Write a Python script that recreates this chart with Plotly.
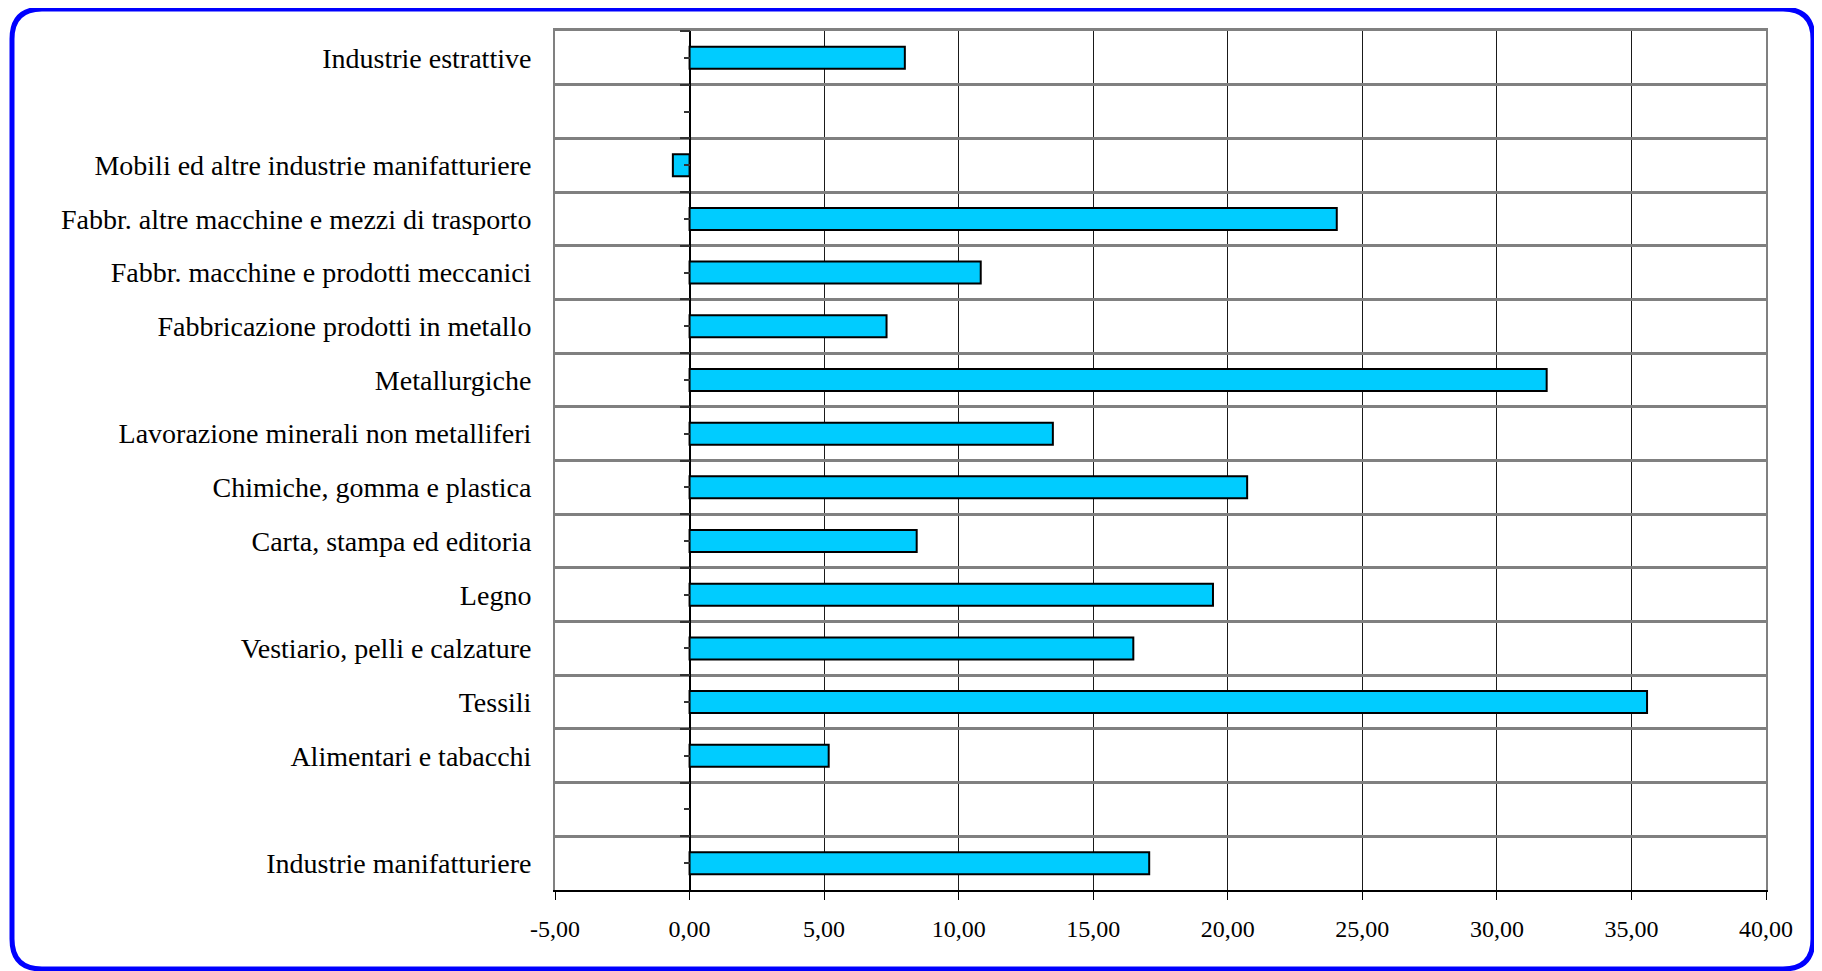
import plotly.graph_objects as go

categories = [
    "Industrie estrattive",
    " ",
    "Mobili ed altre industrie manifatturiere",
    "Fabbr. altre macchine e mezzi di trasporto",
    "Fabbr. macchine e prodotti meccanici",
    "Fabbricazione prodotti in metallo",
    "Metallurgiche",
    "Lavorazione minerali non metalliferi",
    "Chimiche, gomma e plastica",
    "Carta, stampa ed editoria",
    "Legno",
    "Vestiario, pelli e calzature",
    "Tessili",
    "Alimentari e tabacchi",
    "  ",
    "Industrie manifatturiere",
]
values = [8.0, None, -0.62, 24.05, 10.82, 7.32, 31.85, 13.50, 20.72, 8.44,
          19.45, 16.49, 35.58, 5.17, None, 17.08]
x_ticks = [-5, 0, 5, 10, 15, 20, 25, 30, 35, 40]
x_tick_labels = [f"{v:.2f}".replace(".", ",") for v in x_ticks]
x_range = [-5, 40]

# the page body adds an 8px offset, so the figure is laid out 8px up/left
OFF = 8
W, H = 1822 - OFF, 971 - OFF
L, R, T, B = 555 - OFF, 1766 - OFF, 31 - OFF, 890 - OFF

fig = go.Figure()
fig.add_trace(go.Bar(
    y=categories, x=values, orientation="h", width=0.41,
    marker=dict(color="#00CCFF", line=dict(color="#000000", width=2)),
    hoverinfo="x+y", showlegend=False,
))
# invisible helper traces for the extra axes
for xa, ya in [("x", "y2"), ("x", "y3"), ("x2", "y")]:
    fig.add_trace(go.Scatter(
        y=categories, x=values, xaxis=xa, yaxis=ya, mode="markers",
        marker=dict(opacity=0), hoverinfo="skip", showlegend=False,
    ))

font = dict(family="Liberation Serif, Times New Roman, serif", size=28, color="#000000")
yrange = [len(categories) - 0.5, -0.5]
zero_pos = (0 - x_range[0]) / (x_range[1] - x_range[0])

fig.update_layout(
    width=W, height=H,
    margin=dict(l=L, r=W - R, t=T, b=H - B, pad=0),
    paper_bgcolor="white", plot_bgcolor="white",
    font=font,
    xaxis=dict(
        range=x_range, tickvals=x_ticks, ticktext=x_tick_labels,
        showgrid=True, gridcolor="#1a1a1a", gridwidth=1,
        zeroline=True, zerolinecolor="#000000", zerolinewidth=1.5,
        showline=True, linecolor="#000000", linewidth=1.5,
        ticks="outside", ticklen=8, tickcolor="#000000", tickwidth=1,
        ticklabelstandoff=8,
        tickfont=dict(family=font["family"], size=24, color="#000000"),
        fixedrange=True,
    ),
    xaxis2=dict(
        range=x_range, overlaying="x", side="top", anchor="y",
        showgrid=False, zeroline=False, showticklabels=False, ticks="",
        showline=True, linecolor="#808080", linewidth=3,
        fixedrange=True,
    ),
    yaxis=dict(
        type="category", categoryorder="array", categoryarray=categories,
        range=yrange, tickson="boundaries",
        showgrid=True, gridcolor="#808080", gridwidth=3,
        showline=True, linecolor="#808080", linewidth=2, mirror=True,
        ticks="", ticklabelstandoff=16,
        tickfont=font,
        fixedrange=True,
    ),
    yaxis2=dict(
        type="category", categoryorder="array", categoryarray=categories,
        range=yrange, overlaying="y", anchor="free", position=zero_pos,
        showgrid=False, showline=False, showticklabels=False, zeroline=False,
        ticks="outside", ticklen=6, tickcolor="#333333", tickwidth=1.5,
        fixedrange=True,
    ),
    yaxis3=dict(
        type="category", categoryorder="array", categoryarray=categories,
        range=yrange, overlaying="y", anchor="free", position=zero_pos,
        tickson="boundaries",
        showgrid=False, showline=False, showticklabels=False, zeroline=False,
        ticks="outside", ticklen=10, tickcolor="#333333", tickwidth=2,
        fixedrange=True,
    ),
)

# rounded blue frame around the whole chart (paper coordinates)
pw, ph = R - L, B - T
def px(x):
    return (x - L) / pw
def py(y):
    return (B - y) / ph
x0, x1, y0, y1, r = 12 - OFF, 1813 - OFF, 9 - OFF, 969 - OFF, 30
path = (
    f"M {px(x0 + r)},{py(y0)} L {px(x1 - r)},{py(y0)} "
    f"Q {px(x1)},{py(y0)} {px(x1)},{py(y0 + r)} "
    f"L {px(x1)},{py(y1 - r)} Q {px(x1)},{py(y1)} {px(x1 - r)},{py(y1)} "
    f"L {px(x0 + r)},{py(y1)} Q {px(x0)},{py(y1)} {px(x0)},{py(y1 - r)} "
    f"L {px(x0)},{py(y0 + r)} Q {px(x0)},{py(y0)} {px(x0 + r)},{py(y0)} Z"
)
fig.add_shape(type="path", path=path, xref="paper", yref="paper",
              line=dict(color="#0000FF", width=5), layer="above")

fig.write_html("out.html", config={"displayModeBar": False})
